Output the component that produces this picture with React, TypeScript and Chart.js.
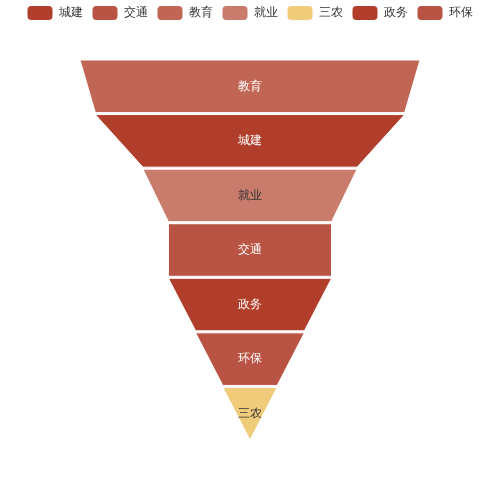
import React, { useEffect, useRef } from "react";
import { Chart, registerables } from "chart.js";

Chart.register(...registerables);

// ---- data ----
const categories = ["城建", "交通", "教育", "就业", "三农", "政务", "环保"];
const values = [91, 48, 100, 63, 16, 48, 32];
const colors = ["#b03e2b", "#b95343", "#c16654", "#c97b6c", "#f0cc7a", "#b03e2b", "#b95343"];
const labelColors = ["#ffffff", "#ffffff", "#ffffff", "#333333", "#333333", "#ffffff", "#ffffff"];
const valueMin = 0;
const valueMax = 100;

// ---- layout constants (pixels) ----
const CANVAS = 500;
const FUNNEL_WIDTH = 340;
const FUNNEL_TOP = 60;
const FUNNEL_BOTTOM = 440;
const AREA_TOP = 30; // chart area top after legend
const GAP_PX = 2;

const funnelH = FUNNEL_BOTTOM - FUNNEL_TOP;
const gap = GAP_PX / funnelH;
const n = values.length;
const itemH = (1 - gap * (n - 1)) / n;

// descending order (stable)
const order = values
  .map((v, i) => ({ v, i }))
  .sort((a, b) => b.v - a.v || a.i - b.i)
  .map((d) => d.i);

const rankOf: number[] = [];
order.forEach((idx, r) => (rankOf[idx] = r));

function pieceFor(idx: number) {
  const r = rankOf[idx];
  const top = values[idx];
  const bot = r + 1 < n ? values[order[r + 1]] : valueMin;
  const y0 = r * (itemH + gap);
  const y1 = y0 + itemH;
  return [
    { x: -top / 2, y: y0 },
    { x: top / 2, y: y0 },
    { x: bot / 2, y: y1 },
    { x: -bot / 2, y: y1 },
    { x: -top / 2, y: y0 },
  ];
}

const labelPlugin = {
  id: "funnelLabels",
  afterDatasetsDraw(chart: any) {
    const { ctx, scales } = chart;
    ctx.save();
    ctx.font = "12px sans-serif";
    ctx.textAlign = "center";
    ctx.textBaseline = "middle";
    categories.forEach((name, idx) => {
      const r = rankOf[idx];
      const yMid = r * (itemH + gap) + itemH / 2;
      ctx.fillStyle = labelColors[idx];
      ctx.fillText(name, scales.x.getPixelForValue(0), scales.y.getPixelForValue(yMid));
    });
    ctx.restore();
  },
};

export default function App() {
  const ref = useRef<HTMLCanvasElement | null>(null);

  useEffect(() => {
    if (!ref.current) return;
    const xHalf = (valueMax / 2) * (CANVAS / FUNNEL_WIDTH);
    const yMin = -(FUNNEL_TOP - AREA_TOP) / funnelH;
    const yMax = 1 + (CANVAS - FUNNEL_BOTTOM) / funnelH;
    const chart = new Chart(ref.current, {
      type: "line",
      data: {
        datasets: categories.map((name, idx) => ({
          label: name,
          data: pieceFor(idx),
          backgroundColor: colors[idx],
          borderColor: "#ffffff",
          borderWidth: 1,
          fill: "shape",
          pointRadius: 0,
          pointHoverRadius: 0,
          tension: 0,
          clip: 6,
        })),
      },
      options: {
        responsive: false,
        animation: false,
        layout: { padding: { top: -4, left: 0, right: 0, bottom: 0 }, autoPadding: false },
        scales: {
          x: { type: "linear", display: false, min: -xHalf, max: xHalf },
          y: { type: "linear", display: false, min: yMin, max: yMax, reverse: true },
        },
        plugins: {
          tooltip: { enabled: false },
          legend: {
            display: true,
            position: "top",
            align: "center",
            labels: {
              boxWidth: 25,
              boxHeight: 14,
              padding: 10,
              color: "#333333",
              font: { size: 12, family: "sans-serif" },
              useBorderRadius: true,
              borderRadius: 4,
              generateLabels: (c: any) =>
                c.data.datasets.map((ds: any, i: number) => ({
                  text: ds.label,
                  fillStyle: ds.backgroundColor,
                  strokeStyle: ds.backgroundColor,
                  lineWidth: 0,
                  hidden: false,
                  datasetIndex: i,
                  fontColor: "#333333",
                  borderRadius: 4,
                })),
            },
          },
        },
      },
      plugins: [labelPlugin],
    } as any);
    return () => chart.destroy();
  }, []);

  return (
    <div style={{ position: "absolute", left: 0, top: 0, width: CANVAS, height: CANVAS, background: "#fff" }}>
      <canvas ref={ref} width={CANVAS} height={CANVAS} />
    </div>
  );
}
